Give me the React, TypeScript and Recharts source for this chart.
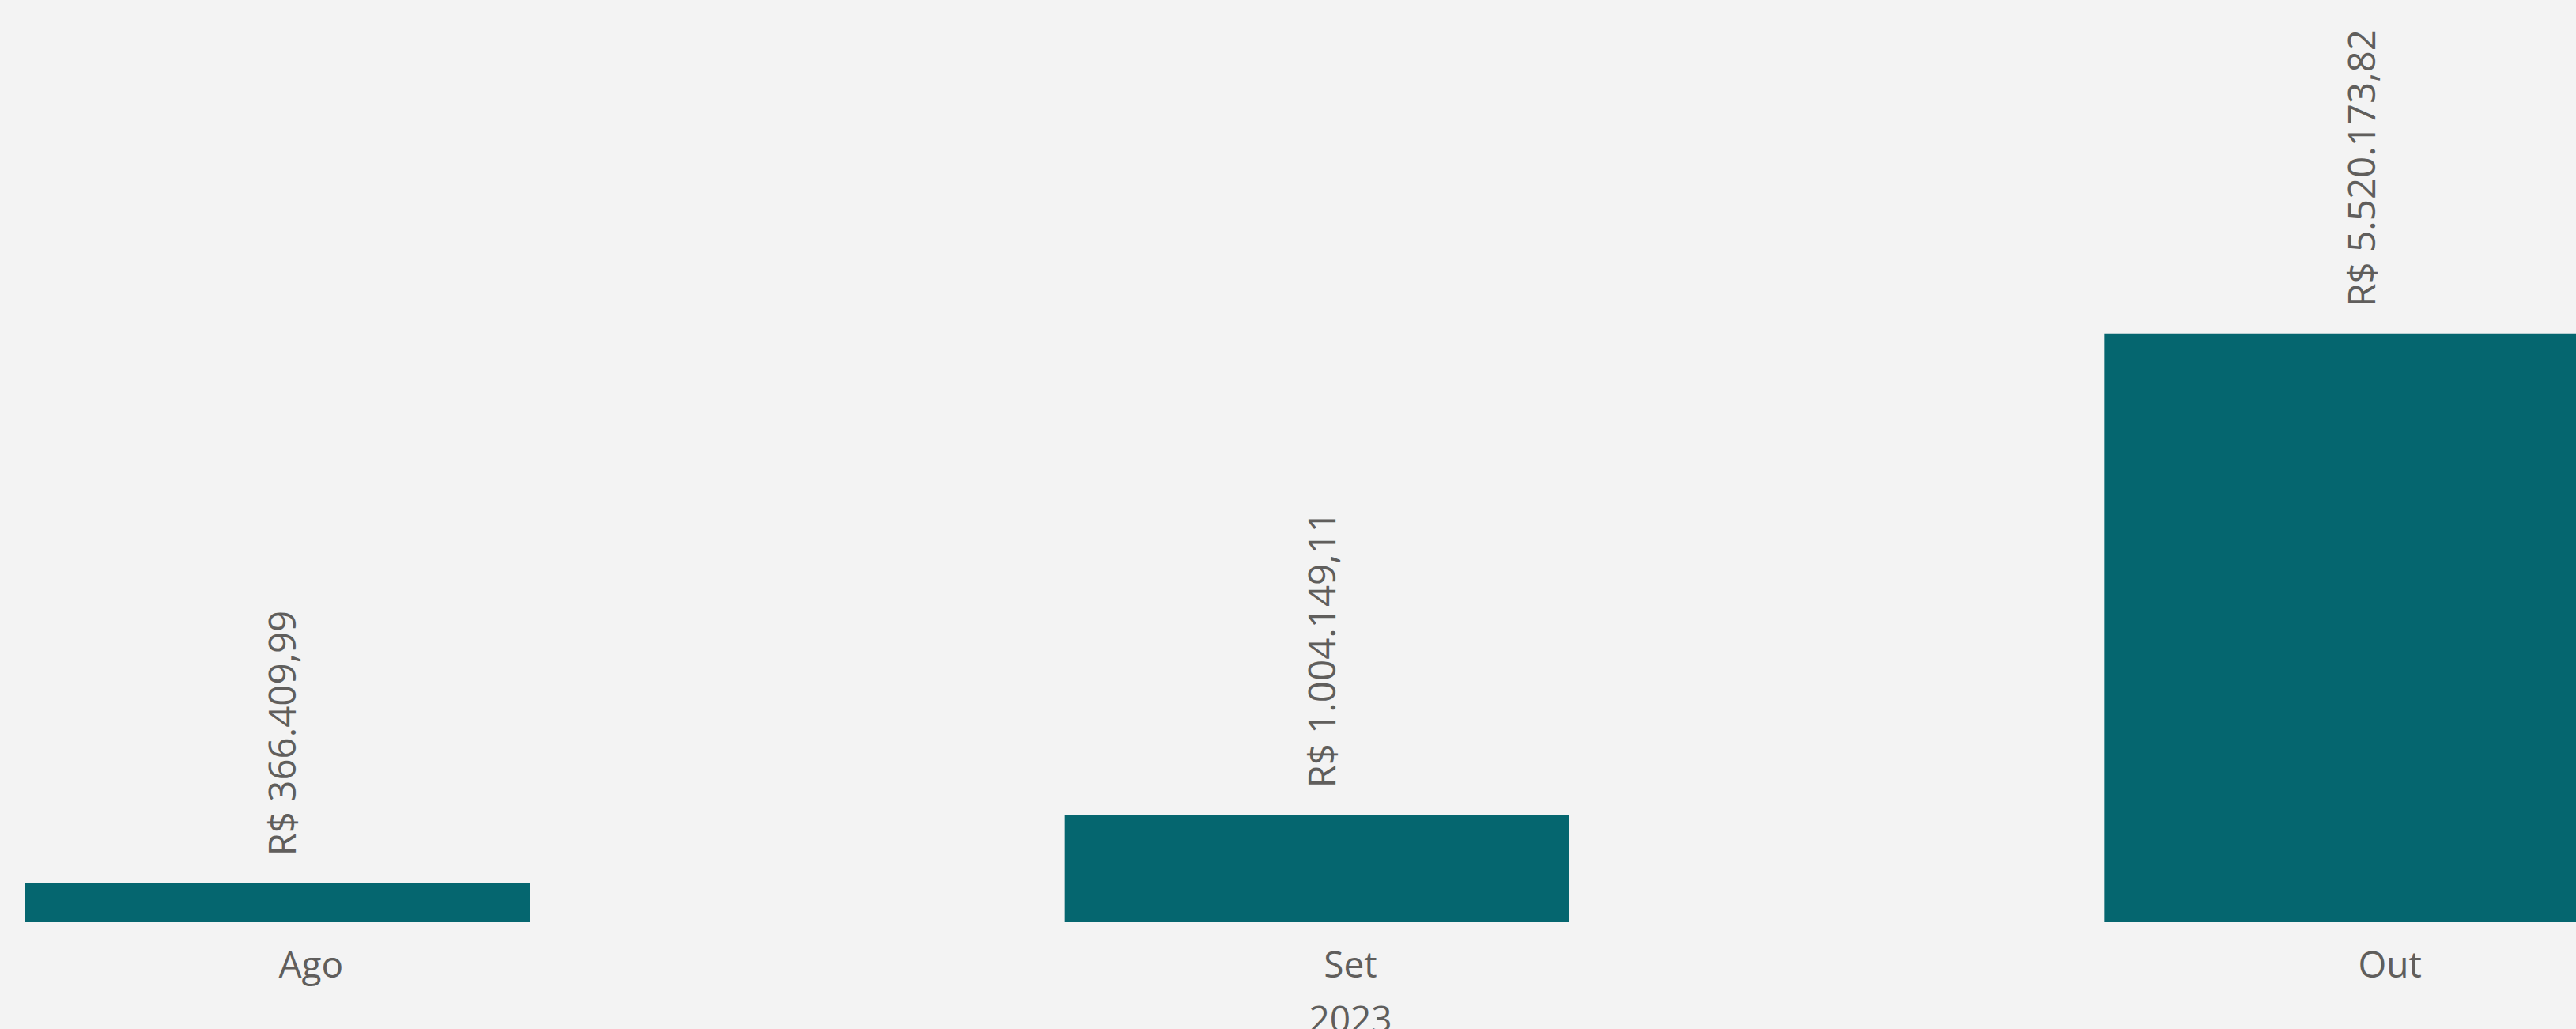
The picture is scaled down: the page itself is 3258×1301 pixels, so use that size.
import { BarChart, Bar, XAxis, YAxis, LabelList } from "recharts";

const months = ["Ago", "Set", "Out"];
const totals = [366409.99, 1004149.11, 5520173.82];
const yearLabel = "2023";

const data = months.map((m, i) => ({ month: m, total: totals[i] }));

const FONT = '"Segoe UI", "Open Sans", sans-serif';
const TEXT = "#605E5C";
const BAR = "#05666F";

// R$ 1.234.567,89
const brl = (v: number) => {
  const [int, dec] = v.toFixed(2).split(".");
  return "R$ " + int.replace(/\B(?=(\d{3})+(?!\d))/g, ".") + "," + dec;
};

const MonthTick = (props: any) => {
  const { x, y, payload } = props;
  return (
    <text x={x + 42} y={y + 62} textAnchor="middle" fill={TEXT} fontSize={46} fontFamily={FONT}>
      {payload.value}
    </text>
  );
};

const ValueLabel = (props: any) => {
  const { x, y, width, value } = props;
  const cx = x + width / 2 + 5;
  const sy = y - 34;
  return (
    <text
      x={cx}
      y={sy}
      transform={`rotate(-90 ${cx} ${sy})`}
      textAnchor="start"
      dominantBaseline="central"
      fill={TEXT}
      fontSize={47.5}
      fontFamily={FONT}
    >
      {brl(value)}
    </text>
  );
};

const App = () => {
  return (
    <div
      style={{
        position: "absolute",
        left: 0,
        top: 0,
        width: 3258,
        height: 1301,
        overflow: "hidden",
        background: "#F3F3F3",
      }}
    >
      <div style={{ position: "absolute", left: -306, top: 0 }}>
        <BarChart width={3944} height={1301} data={data} margin={{ top: 357, right: 0, left: 0, bottom: 0 }}>
          <XAxis
            dataKey="month"
            height={135}
            axisLine={false}
            tickLine={false}
            tick={<MonthTick />}
            interval={0}
            label={{
              value: yearLabel,
              position: "insideBottom",
              offset: -4,
              dx: 42,
              fill: TEXT,
              fontSize: 46,
              fontFamily: FONT,
            }}
          />
          <YAxis hide domain={[0, 6000000]} />
          <Bar dataKey="total" fill={BAR} barSize={638} isAnimationActive={false}>
            <LabelList dataKey="total" content={<ValueLabel />} />
          </Bar>
        </BarChart>
      </div>
    </div>
  );
};

export default App;
